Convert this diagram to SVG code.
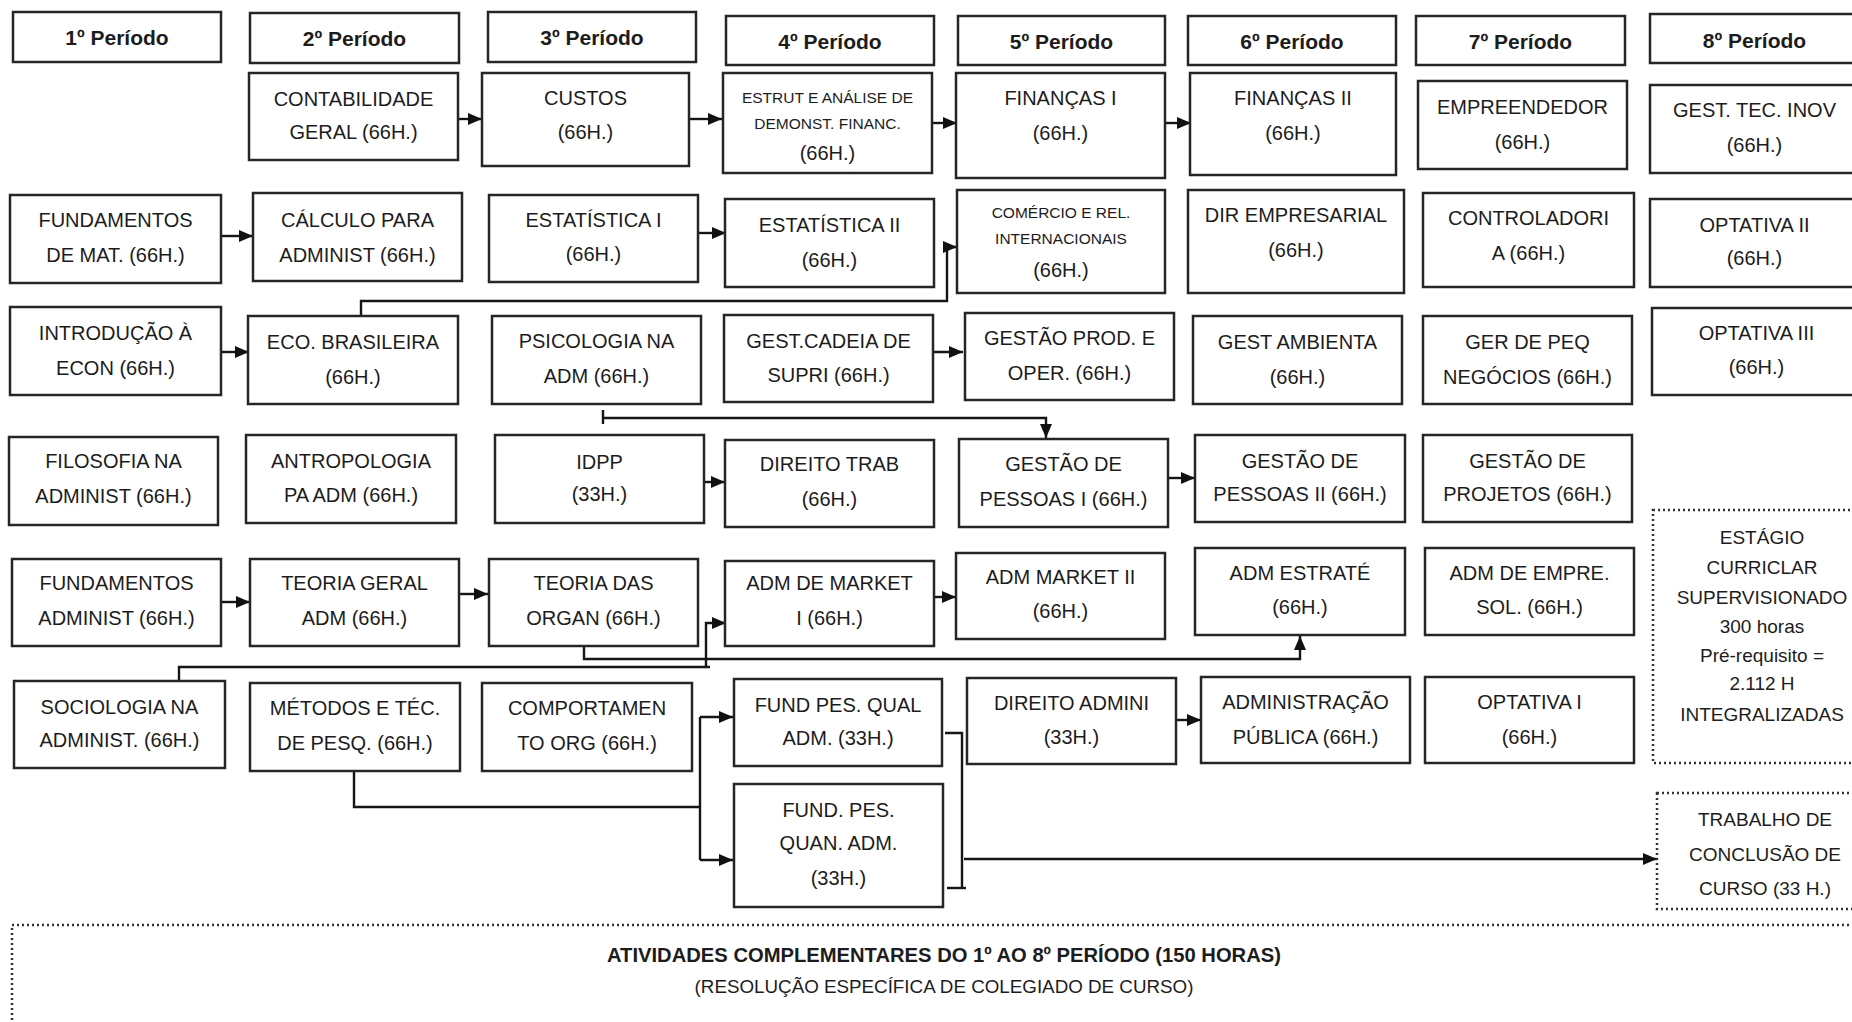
<svg xmlns="http://www.w3.org/2000/svg" width="1852" height="1022" viewBox="0 0 1852 1022">
<style>
.b{fill:#fff;stroke:#262626;stroke-width:2.5}
.d{fill:#fff;stroke:#333;stroke-width:2.5;stroke-dasharray:2 3}
text{font-family:"Liberation Sans",Arial,sans-serif;font-size:20px;text-anchor:middle;fill:#1c1c1c}
.s{font-size:15.5px}
.h{font-weight:bold;font-size:21px}
.e{font-size:19px}
.c{fill:none;stroke:#151515;stroke-width:2.4}
.a{marker-end:url(#ah)}
</style>
<defs>
<marker id="ah" viewBox="0 0 14 12" refX="14" refY="6" markerWidth="14" markerHeight="12" markerUnits="userSpaceOnUse" orient="auto"><path d="M0,0 L14,6 L0,12 z" fill="#111"/></marker>
</defs>
<rect width="1852" height="1022" fill="#fff"/>

<g id="connectors">
<line class="c a" x1="454" y1="119" x2="482" y2="119"/>
<line class="c a" x1="690" y1="119" x2="722" y2="119"/>
<line class="c a" x1="933" y1="123" x2="957" y2="123"/>
<line class="c a" x1="1165" y1="123" x2="1191" y2="123"/>
<line class="c a" x1="222" y1="236" x2="253" y2="236"/>
<line class="c a" x1="698" y1="233" x2="726" y2="233"/>
<line class="c a" x1="221" y1="352" x2="249" y2="352"/>
<line class="c a" x1="929" y1="352" x2="963" y2="352"/>
<line class="c a" x1="699" y1="482" x2="725" y2="482"/>
<line class="c a" x1="1167" y1="478" x2="1195" y2="478"/>
<line class="c a" x1="222" y1="602" x2="250" y2="602"/>
<line class="c a" x1="458" y1="594" x2="488" y2="594"/>
<line class="c a" x1="930" y1="597" x2="956" y2="597"/>
<line class="c a" x1="1173" y1="720" x2="1201" y2="720"/>
<polyline class="c a" points="361,316 361,301 947,301 947,247 957,247"/>
<line class="c" x1="603" y1="410" x2="603" y2="424"/>
<polyline class="c a" points="603,418 1046,418 1046,438"/>
<polyline class="c a" points="584,646 584,659 1300,659 1300,636"/>
<polyline class="c" points="179,681 179,667 710,667"/>
<polyline class="c a" points="706,667 706,623 726,623"/>
<polyline class="c" points="354,771 354,807 701,807"/>
<line class="c" x1="700" y1="717" x2="700" y2="860"/>
<line class="c a" x1="700" y1="717" x2="733" y2="717"/>
<line class="c a" x1="700" y1="860" x2="733" y2="860"/>
<polyline class="c" points="945,733 962,733 962,888"/>
<line class="c" x1="947" y1="888" x2="966" y2="888"/>
<line class="c a" x1="964" y1="859" x2="1657" y2="859"/>
</g>

<g id="h1"><rect class="b" x="13" y="12" width="208" height="50"/><text class="h" x="117" y="44.5">1º Período</text></g>
<g id="h2"><rect class="b" x="250" y="13" width="209" height="50"/><text class="h" x="354.5" y="45.5">2º Período</text></g>
<g id="h3"><rect class="b" x="488" y="12" width="208" height="50"/><text class="h" x="592" y="44.5">3º Período</text></g>
<g id="h4"><rect class="b" x="726" y="16" width="208" height="49"/><text class="h" x="830" y="49">4º Período</text></g>
<g id="h5"><rect class="b" x="958" y="16" width="207" height="49"/><text class="h" x="1061.5" y="49">5º Período</text></g>
<g id="h6"><rect class="b" x="1188" y="16" width="208" height="49"/><text class="h" x="1292" y="49">6º Período</text></g>
<g id="h7"><rect class="b" x="1416" y="16" width="209" height="49"/><text class="h" x="1520.5" y="49">7º Período</text></g>
<g id="h8"><rect class="b" x="1650" y="14" width="209" height="49"/><text class="h" x="1754.5" y="47.5">8º Período</text></g>

<g id="contab"><rect class="b" x="249" y="73" width="209" height="87"/><text x="353.5" y="106">CONTABILIDADE</text><text x="353.5" y="139">GERAL (66H.)</text></g>
<g id="custos"><rect class="b" x="482" y="73" width="207" height="93"/><text x="585.5" y="105">CUSTOS</text><text x="585.5" y="139">(66H.)</text></g>
<g id="estrut"><rect class="b" x="723" y="73" width="209" height="100"/><text class="s" x="827.5" y="102.5">ESTRUT E ANÁLISE DE</text><text class="s" x="827.5" y="128.5">DEMONST. FINANC.</text><text x="827.5" y="160">(66H.)</text></g>
<g id="fin1"><rect class="b" x="956" y="73" width="209" height="105"/><text x="1060.5" y="105">FINANÇAS I</text><text x="1060.5" y="140">(66H.)</text></g>
<g id="fin2"><rect class="b" x="1190" y="73" width="206" height="102"/><text x="1293" y="105">FINANÇAS II</text><text x="1293" y="140">(66H.)</text></g>
<g id="empreend"><rect class="b" x="1418" y="81" width="209" height="88"/><text x="1522.5" y="114">EMPREENDEDOR</text><text x="1522.5" y="149">(66H.)</text></g>
<g id="gesttec"><rect class="b" x="1650" y="85" width="209" height="88"/><text x="1754.5" y="117">GEST. TEC. INOV</text><text x="1754.5" y="152">(66H.)</text></g>

<g id="fundmat"><rect class="b" x="10" y="195" width="211" height="88"/><text x="115.5" y="227">FUNDAMENTOS</text><text x="115.5" y="262">DE MAT. (66H.)</text></g>
<g id="calc"><rect class="b" x="253" y="193" width="209" height="88"/><text x="357.5" y="227">CÁLCULO PARA</text><text x="357.5" y="262">ADMINIST (66H.)</text></g>
<g id="est1"><rect class="b" x="489" y="195" width="209" height="87"/><text x="593.5" y="227">ESTATÍSTICA I</text><text x="593.5" y="261">(66H.)</text></g>
<g id="est2"><rect class="b" x="725" y="199" width="209" height="88"/><text x="829.5" y="232">ESTATÍSTICA II</text><text x="829.5" y="267">(66H.)</text></g>
<g id="comercio"><rect class="b" x="957" y="190" width="208" height="103"/><text class="s" x="1061" y="217.5">COMÉRCIO E REL.</text><text class="s" x="1061" y="243.5">INTERNACIONAIS</text><text x="1061" y="277">(66H.)</text></g>
<g id="diremp"><rect class="b" x="1188" y="190" width="216" height="103"/><text x="1296" y="222">DIR EMPRESARIAL</text><text x="1296" y="257">(66H.)</text></g>
<g id="control"><rect class="b" x="1423" y="193" width="211" height="94"/><text x="1528.5" y="225">CONTROLADORI</text><text x="1528.5" y="260">A (66H.)</text></g>
<g id="opt2"><rect class="b" x="1650" y="199" width="209" height="88"/><text x="1754.5" y="232">OPTATIVA II</text><text x="1754.5" y="265">(66H.)</text></g>

<g id="intro"><rect class="b" x="10" y="307" width="211" height="88"/><text x="115.5" y="340">INTRODUÇÃO À</text><text x="115.5" y="375">ECON (66H.)</text></g>
<g id="eco"><rect class="b" x="248" y="316" width="210" height="88"/><text x="353" y="349">ECO. BRASILEIRA</text><text x="353" y="384">(66H.)</text></g>
<g id="psico"><rect class="b" x="492" y="316" width="209" height="88"/><text x="596.5" y="348">PSICOLOGIA NA</text><text x="596.5" y="383">ADM (66H.)</text></g>
<g id="cadeia"><rect class="b" x="724" y="315" width="209" height="87"/><text x="828.5" y="348">GEST.CADEIA DE</text><text x="828.5" y="382">SUPRI (66H.)</text></g>
<g id="prod"><rect class="b" x="965" y="313" width="209" height="87"/><text x="1069.5" y="345">GESTÃO PROD. E</text><text x="1069.5" y="380">OPER. (66H.)</text></g>
<g id="ambienta"><rect class="b" x="1193" y="316" width="209" height="88"/><text x="1297.5" y="349">GEST AMBIENTA</text><text x="1297.5" y="384">(66H.)</text></g>
<g id="gerpeq"><rect class="b" x="1423" y="316" width="209" height="88"/><text x="1527.5" y="349">GER DE PEQ</text><text x="1527.5" y="384">NEGÓCIOS (66H.)</text></g>
<g id="opt3"><rect class="b" x="1652" y="308" width="209" height="87"/><text x="1756.5" y="340">OPTATIVA III</text><text x="1756.5" y="374">(66H.)</text></g>

<g id="filos"><rect class="b" x="9" y="437" width="209" height="88"/><text x="113.5" y="468">FILOSOFIA NA</text><text x="113.5" y="503">ADMINIST (66H.)</text></g>
<g id="antrop"><rect class="b" x="246" y="435" width="210" height="88"/><text x="351" y="468">ANTROPOLOGIA</text><text x="351" y="502">PA ADM (66H.)</text></g>
<g id="idpp"><rect class="b" x="495" y="435" width="209" height="88"/><text x="599.5" y="469">IDPP</text><text x="599.5" y="501">(33H.)</text></g>
<g id="dirtrab"><rect class="b" x="725" y="440" width="209" height="87"/><text x="829.5" y="471">DIREITO TRAB</text><text x="829.5" y="506">(66H.)</text></g>
<g id="gp1"><rect class="b" x="959" y="439" width="209" height="88"/><text x="1063.5" y="471">GESTÃO DE</text><text x="1063.5" y="506">PESSOAS I (66H.)</text></g>
<g id="gp2"><rect class="b" x="1195" y="435" width="210" height="87"/><text x="1300" y="468">GESTÃO DE</text><text x="1300" y="501">PESSOAS II (66H.)</text></g>
<g id="gproj"><rect class="b" x="1423" y="435" width="209" height="87"/><text x="1527.5" y="468">GESTÃO DE</text><text x="1527.5" y="501">PROJETOS (66H.)</text></g>

<g id="fundadm"><rect class="b" x="12" y="559" width="209" height="87"/><text x="116.5" y="590">FUNDAMENTOS</text><text x="116.5" y="625">ADMINIST (66H.)</text></g>
<g id="tgeral"><rect class="b" x="250" y="559" width="209" height="87"/><text x="354.5" y="590">TEORIA GERAL</text><text x="354.5" y="625">ADM (66H.)</text></g>
<g id="torgan"><rect class="b" x="489" y="559" width="209" height="87"/><text x="593.5" y="590">TEORIA DAS</text><text x="593.5" y="625">ORGAN (66H.)</text></g>
<g id="mkt1"><rect class="b" x="725" y="561" width="209" height="85"/><text x="829.5" y="590">ADM DE MARKET</text><text x="829.5" y="625">I (66H.)</text></g>
<g id="mkt2"><rect class="b" x="956" y="553" width="209" height="86"/><text x="1060.5" y="584">ADM MARKET II</text><text x="1060.5" y="618">(66H.)</text></g>
<g id="estrate"><rect class="b" x="1195" y="548" width="210" height="87"/><text x="1300" y="580">ADM ESTRATÉ</text><text x="1300" y="614">(66H.)</text></g>
<g id="empre"><rect class="b" x="1425" y="548" width="209" height="87"/><text x="1529.5" y="580">ADM DE EMPRE.</text><text x="1529.5" y="614">SOL. (66H.)</text></g>

<g id="socio"><rect class="b" x="14" y="681" width="211" height="87"/><text x="119.5" y="714">SOCIOLOGIA NA</text><text x="119.5" y="747">ADMINIST. (66H.)</text></g>
<g id="metodos"><rect class="b" x="250" y="683" width="210" height="88"/><text x="355" y="715">MÉTODOS E TÉC.</text><text x="355" y="750">DE PESQ. (66H.)</text></g>
<g id="comport"><rect class="b" x="482" y="683" width="210" height="88"/><text x="587" y="715">COMPORTAMEN</text><text x="587" y="750">TO ORG (66H.)</text></g>
<g id="qual"><rect class="b" x="734" y="679" width="208" height="87"/><text x="838" y="712">FUND PES. QUAL</text><text x="838" y="745">ADM. (33H.)</text></g>
<g id="diradm"><rect class="b" x="967" y="678" width="209" height="86"/><text x="1071.5" y="710">DIREITO ADMINI</text><text x="1071.5" y="744">(33H.)</text></g>
<g id="admpub"><rect class="b" x="1201" y="677" width="209" height="86"/><text x="1305.5" y="709">ADMINISTRAÇÃO</text><text x="1305.5" y="744">PÚBLICA (66H.)</text></g>
<g id="opt1"><rect class="b" x="1425" y="677" width="209" height="86"/><text x="1529.5" y="709">OPTATIVA I</text><text x="1529.5" y="744">(66H.)</text></g>
<g id="quan"><rect class="b" x="734" y="784" width="209" height="123"/><text x="838.5" y="817">FUND. PES.</text><text x="838.5" y="850">QUAN. ADM.</text><text x="838.5" y="885">(33H.)</text></g>

<g id="estagio"><rect class="d" x="1653" y="510" width="220" height="253"/><text class="e" x="1762" y="544">ESTÁGIO</text><text class="e" x="1762" y="574">CURRICLAR</text><text class="e" x="1762" y="604">SUPERVISIONADO</text><text class="e" x="1762" y="633">300 horas</text><text class="e" x="1762" y="662">Pré-requisito =</text><text class="e" x="1762" y="690">2.112 H</text><text class="e" x="1762" y="721">INTEGRALIZADAS</text></g>
<g id="trabalho"><rect class="d" x="1657" y="793" width="220" height="116"/><text class="e" x="1765" y="826">TRABALHO DE</text><text class="e" x="1765" y="861">CONCLUSÃO DE</text><text class="e" x="1765" y="895">CURSO (33 H.)</text></g>
<g id="atividades"><rect class="d" x="12" y="925" width="1860" height="120"/><text x="944" y="962" style="font-weight:bold;font-size:20.2px">ATIVIDADES COMPLEMENTARES DO 1º AO 8º PERÍODO (150 HORAS)</text><text x="944" y="993" style="font-size:18.8px">(RESOLUÇÃO ESPECÍFICA DE COLEGIADO DE CURSO)</text></g>
</svg>
